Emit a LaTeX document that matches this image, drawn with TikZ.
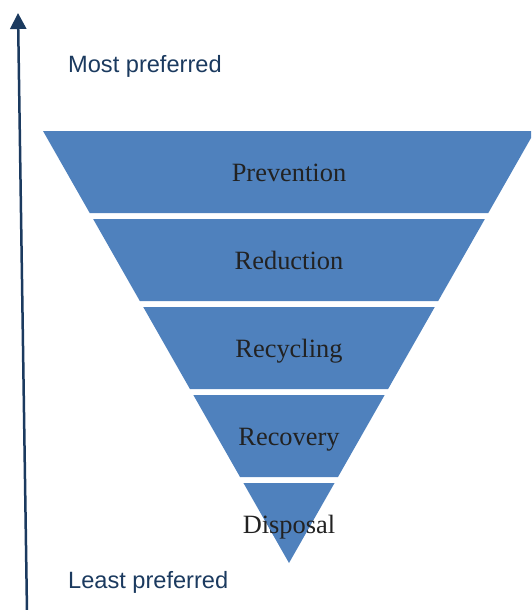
\documentclass[tikz,border=0pt]{standalone}
\usepackage{fontspec}
\setmainfont{Liberation Serif}
\newfontfamily\labelfont{Liberation Sans}
\usetikzlibrary{arrows.meta}
\definecolor{layerblue}{HTML}{4F81BD}
\definecolor{navy}{HTML}{1B3A5F}
\definecolor{layertext}{HTML}{222222}
\tikzset{
  layer/.style={fill=layerblue, draw=none},
  layerlabel/.style={anchor=base, inner sep=0pt, text=layertext, font=\fontsize{26.4}{30}\selectfont},
  sidelabel/.style={anchor=base west, inner sep=0pt, text=navy, font=\labelfont\fontsize{23.6}{28}\selectfont},
  axis/.style={draw=navy, line width=2.5pt, -{Triangle[width=16pt,length=16pt]}}
}
\begin{document}
\begin{tikzpicture}[x=1pt,y=-1pt]
\useasboundingbox (0,0) rectangle (531,610);
\clip (0,0) rectangle (531,610);
% layers of the inverted pyramid (apex at 289,563)
\foreach \t/\b in {131/213, 219/301, 307/389, 395/477, 483/563}{
  \fill[layer] ({289-(563-\t)*0.5694},\t) -- ({289+(563-\t)*0.5694},\t)
     -- ({289+(563-\b)*0.5694},\b) -- ({289-(563-\b)*0.5694},\b) -- cycle;
}
\node[layerlabel] (prev) at (289,181) {Prevention};
\node[layerlabel] (red) at (289,269) {Reduction};
\node[layerlabel] (recy) at (289,357) {Recycling};
\node[layerlabel] (reco) at (289,445) {Recovery};
\node[layerlabel] (disp) at (289,533) {Disposal};
% axis
\coordinate (axbot) at (27,612);
\coordinate (axtop) at (18,13);
\draw[axis] (axbot) -- (axtop);
\node[sidelabel] (most) at (68,73) {Most preferred};
\node[sidelabel] (least) at (68,588) {Least preferred};
\end{tikzpicture}
\end{document}
